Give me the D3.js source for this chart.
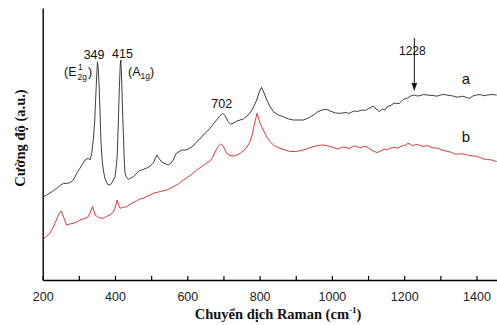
<!DOCTYPE html>
<html>
<head>
<meta charset="utf-8">
<script src="https://cdn.jsdelivr.net/npm/d3@7"></script>
<style>
  body { margin: 0; background: #fff; }
  svg { display: block; }
</style>
</head>
<body>
<svg id="chart"></svg>
<script>
// Raman shift (cm-1) and intensity (a.u.)
const shiftA = [200,210,220,230,239,248,257,266,275,285,294,303,310,317,326,331,335.5,340,344,347,349.5,351.5,353.5,356,358.5,361,364,367.6,372,377,381.5,388,394,400,403,406,409,412,414.5,416,418,420,423,425.5,427.7,432,437,444,450.6,460,467,478,488,497,506,512,516,520,529,538,547,555,561,568,575,585,596,607,616,626,635,644,653,663,672,681,690,698,705,713,720,727,737,746,755,765,773,782,792,800,805,810,820,828,838,852,866,880,893,907,921,935,949,960,972,985,995,1010,
  1022,1040,1047,1055,1062,1069,1085,1093,1101,1108,1115,1122,1131,1140,1147,1152,1165,1172,1179,1186,1193,1200,1207,1218,1228,1236,1245,1254,1262,1280,1290,1300,1310,1318,1335,1343,1350,1362,1373,1380,1390,1400,1410,1420,1430,1443,1456];
const intensA = [825,850,870,895,917,945,967,965,973,1000,1067,1117,1160,1200,1217,1200,1267,1400,1600,1850,2050,2180,2120,1950,1700,1400,1220,1100,1020,975,950,955,990,1033,1120,1233,1550,1920,2150,2200,2050,1800,1470,1220,1067,1025,1007,1020,1033,1065,1093,1105,1120,1140,1170,1220,1250,1225,1180,1165,1150,1170,1200,1260,1280,1300,1300,1317,1340,1383,1410,1450,1480,1517,1560,1600,1640,1667,1640,1583,1560,1567,1590,1600,1610,1640,1667,1720,1800,1890,1927,1890,1800,1740,1683,1650,1633,1610,1600,1600,1600,1620,1650,1680,1700,1707,1690,1670,
  1667,1675,1665,1680,1690,1685,1700,1695,1715,1725,1740,1710,1685,1710,1700,1730,1750,1770,1765,1765,1790,1810,1815,1840,1850,1840,1845,1855,1850,1845,1838,1850,1855,1850,1840,1830,1830,1838,1825,1815,1840,1850,1855,1843,1850,1855,1850];

const shiftB = [200,210,220,228,234,243,250.6,255,259,266,275,285,294,303,312,320,326,332,338,341,344.7,354,360,367.6,376,386,395,400,403,406,409,413.8,420,432,441,450.6,459,467,480,490,500,506,520,530,543,555,565,575,589,598,610,626,640,654,663,670,677,685,692,697,702,709,718,727,737,746,755,765,773,780,787,793,800,810,820,830,840,856,870,885,900,915,930,945,960,975,990,
  1005,1015,1022,1030,1040,1047,1055,1062,1070,1078,1087,1094,1100,1110,1124,1135,1145,1152,1160,1168,1175,1182,1190,1198,1205,1210,1216,1222,1228,1236,1245,1252,1260,1265,1271,1278,1285,1292,1300,1310,1320,1328,1336,1343,1350,1360,1370,1380,1391,1400,1410,1420,1430,1443,1456];
const intensB = [400,435,467,520,567,650,690,660,617,550,560,567,580,600,610,620,633,680,733,700,650,627,620,617,635,650,680,717,760,800,760,717,725,733,755,773,790,807,820,840,855,867,880,890,900,920,940,960,1000,1020,1050,1100,1135,1170,1190,1225,1280,1335,1360,1350,1320,1267,1245,1240,1250,1267,1290,1330,1380,1460,1580,1667,1580,1500,1430,1380,1345,1317,1300,1285,1285,1295,1310,1330,1345,1350,1340,
  1325,1310,1317,1330,1325,1315,1330,1340,1335,1322,1333,1338,1320,1300,1273,1290,1310,1300,1317,1325,1325,1318,1335,1345,1350,1368,1360,1345,1350,1355,1345,1335,1340,1345,1333,1322,1320,1318,1305,1295,1285,1280,1267,1258,1260,1262,1255,1245,1240,1238,1225,1210,1205,1200,1183];

const xTicks = [200,300,400,500,600,700,800,900,1000,1100,1200,1300,1400];
const peakLabels = ["349", "415", "702"];
const peakPos = [349, 415, 702];

const width = 497;
const height = 325;
const padLeft = 42.7;
const padTop = 8;
const axisY = 280;

let svg = d3.select("#chart").attr("width", width).attr("height", height);

let xScale = d3.scaleLinear().domain([200, 1460]).range([padLeft, padLeft + 1260 * 0.3615]);
let yScale = d3.scaleLinear().domain([0, 2720]).range([axisY, padTop]);

// axes
let xAxis = d3.axisBottom(xScale)
  .tickValues(xTicks)
  .tickSizeInner(-4)
  .tickSizeOuter(0)
  .tickPadding(12)
  .tickFormat(d => d % 200 === 0 ? d : "");

let gx = svg.append("g")
  .attr("transform", "translate(0," + axisY + ")")
  .call(xAxis);
gx.select(".domain").attr("stroke-width", 1.4);
gx.selectAll(".tick line").attr("stroke-width", 1.2);
gx.selectAll("text")
  .attr("font-family", "Liberation Sans, Arial, sans-serif")
  .attr("font-size", 12.5)
  .attr("fill", "#222");

let yAxis = d3.axisLeft(yScale).tickValues([]).tickSizeOuter(0);
let gy = svg.append("g")
  .attr("transform", "translate(" + padLeft + ",0)")
  .call(yAxis);
gy.select(".domain").attr("stroke-width", 1.4);

// spectra
let line = d3.line()
  .x(d => xScale(d[0]))
  .y(d => yScale(d[1]));

svg.append("path")
  .datum(shiftB.map((s, i) => [s, intensB[i]]))
  .attr("d", line)
  .attr("fill", "none")
  .attr("stroke", "#d8232a")
  .attr("stroke-width", 0.9);

svg.append("path")
  .datum(shiftA.map((s, i) => [s, intensA[i]]))
  .attr("d", line)
  .attr("fill", "none")
  .attr("stroke", "#2a2a2a")
  .attr("stroke-width", 0.9);

// annotations
const sans = "Liberation Sans, Arial, sans-serif";
const serif = "Liberation Serif, Times New Roman, serif";
const offs = [-2.5, 2, -2.5];
const bases = [59, 58, 108];

peakLabels.forEach((t, i) => {
  svg.append("text")
    .attr("x", xScale(peakPos[i]) + offs[i])
    .attr("y", bases[i])
    .attr("text-anchor", "middle")
    .attr("font-family", sans)
    .attr("font-size", 12.5)
    .attr("fill", "#111")
    .text(t);
});

// (E2g 1)
let e = svg.append("text")
  .attr("x", 64)
  .attr("y", 76)
  .attr("font-family", sans)
  .attr("font-size", 12.5)
  .attr("fill", "#111");
e.append("tspan").text("(E");
e.append("tspan").attr("font-size", 8.5).attr("dx", 1.5).attr("dy", -6).text("1");
e.append("tspan").attr("font-size", 8.5).attr("x", 77.5).attr("dy", 10).text("2g");
e.append("tspan").attr("dy", -4).attr("dx", 1).text(")");

// (A1g)
let a = svg.append("text")
  .attr("x", 128)
  .attr("y", 76)
  .attr("font-family", sans)
  .attr("font-size", 12.5)
  .attr("fill", "#111");
a.append("tspan").text("(A");
a.append("tspan").attr("font-size", 8.5).attr("dy", 3).text("1g");
a.append("tspan").attr("dy", -3).text(")");

// 1228 arrow
svg.append("text")
  .attr("x", xScale(1228) - 2)
  .attr("y", 55)
  .attr("text-anchor", "middle")
  .attr("font-family", sans)
  .attr("font-size", 12)
  .attr("fill", "#111")
  .text("1228");

svg.append("line")
  .attr("x1", xScale(1228)).attr("x2", xScale(1228))
  .attr("y1", 38).attr("y2", 84)
  .attr("stroke", "#111")
  .attr("stroke-width", 1);

svg.append("path")
  .attr("d", "M" + (xScale(1228) - 2.8) + ",83 L" + (xScale(1228) + 2.8) + ",83 L" + xScale(1228) + ",91 Z")
  .attr("fill", "#111");

// a / b
svg.append("text").attr("x", 466).attr("y", 84).attr("text-anchor", "middle")
  .attr("font-family", sans).attr("font-size", 15).attr("fill", "#111").text("a");
svg.append("text").attr("x", 466).attr("y", 142).attr("text-anchor", "middle")
  .attr("font-family", sans).attr("font-size", 15).attr("fill", "#111").text("b");

// axis titles
let xt = svg.append("text")
  .attr("x", 278)
  .attr("y", 319)
  .attr("text-anchor", "middle")
  .attr("font-family", serif)
  .attr("font-weight", "bold")
  .attr("font-size", 14.5)
  .attr("fill", "#111");
xt.append("tspan").text("Chuyển dịch Raman (cm");
xt.append("tspan").attr("font-size", 9).attr("dy", -6).text("-1");
xt.append("tspan").attr("dy", 6).text(")");

svg.append("text")
  .attr("transform", "translate(25,138) rotate(-90)")
  .attr("text-anchor", "middle")
  .attr("font-family", serif)
  .attr("font-weight", "bold")
  .attr("font-size", 14.5)
  .attr("fill", "#111")
  .text("Cường độ (a.u.)");
</script>
</body>
</html>
